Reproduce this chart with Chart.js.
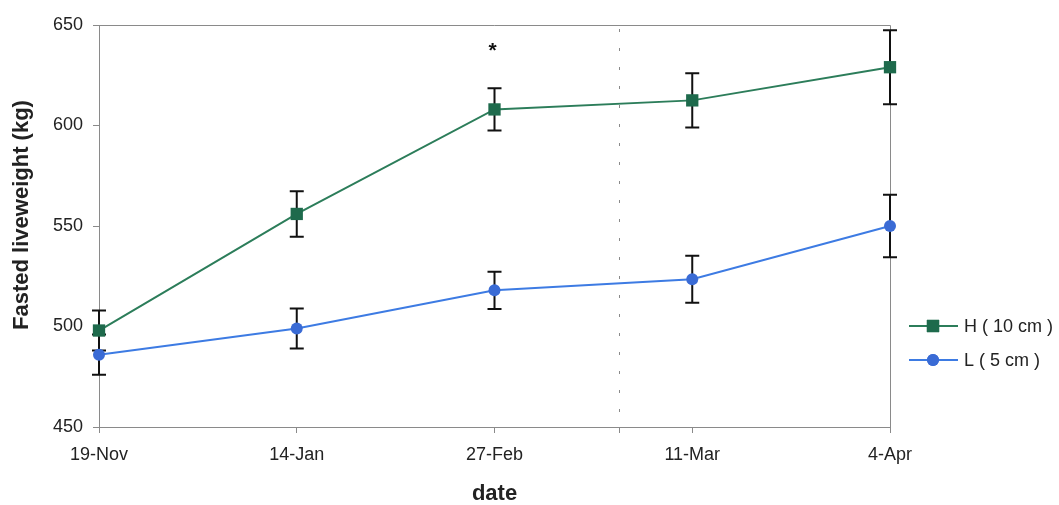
<!DOCTYPE html>
<html>
<head>
<meta charset="utf-8">
<title>Fasted liveweight</title>
<script src="https://cdn.jsdelivr.net/npm/chart.js@4/dist/chart.umd.min.js"></script>
<style>
  html, body { margin: 0; padding: 0; background: #fff; }
  #wrap { position: relative; width: 1059px; height: 505px; }
</style>
</head>
<body>
<div id="wrap"><canvas id="chart_fasted"></canvas></div>
<script>
// Chart data
var dates = ['19-Nov', '14-Jan', '27-Feb', '11-Mar', '4-Apr'];
var highValues = [498, 556, 608, 612.5, 629];
var highErrors = [10, 11.3, 10.5, 13.5, 18.4];
var lowValues = [486, 499, 518, 523.5, 550];
var lowErrors = [10, 10, 9.3, 11.7, 15.5];
var yTicks = [450, 500, 550, 600, 650];
var seriesNames = ['H ( 10 cm )', 'L ( 5 cm )'];
var yTitle = 'Fasted liveweight (kg)';

// Marks: significance star and the dotted divider between 27-Feb and 11-Mar
var starIndex = 2;
var starValue = 639;
var dividerPos = 2.63;

// Define colors
var highLine = '#2c7d5a';
var highMark = '#1e6a4c';
var lowLine = '#3d7be3';
var lowMark = '#3a6bd5';
var axisColor = '#8a8a8a';
var textColor = '#222222';
var fontFamily = '"Liberation Sans", Arial, sans-serif';

function toPoints(values) {
  return values.map(function (v, i) { return { x: i, y: v }; });
}

// Error bars, frame, divider, star, y title and legend
var extrasPlugin = {
  id: 'extras',
  beforeDatasetsDraw: function (chart) {
    var ctx = chart.ctx;
    var xs = chart.scales.x;
    var ys = chart.scales.y;
    var area = chart.chartArea;

    ctx.save();
    // frame top + right
    ctx.strokeStyle = axisColor;
    ctx.lineWidth = 1;
    ctx.beginPath();
    ctx.moveTo(area.left, area.top + 0.5);
    ctx.lineTo(area.right + 0.5, area.top + 0.5);
    ctx.lineTo(area.right + 0.5, area.bottom);
    ctx.stroke();

    // dotted divider
    var dx = Math.round(xs.getPixelForValue(dividerPos)) + 0.5;
    ctx.setLineDash([3, 16]);
    ctx.beginPath();
    ctx.moveTo(dx, area.top + 4);
    ctx.lineTo(dx, area.bottom);
    ctx.stroke();
    ctx.setLineDash([]);

    // error bars
    ctx.strokeStyle = '#111111';
    ctx.lineWidth = 2;
    [[highValues, highErrors], [lowValues, lowErrors]].forEach(function (pair) {
      pair[0].forEach(function (v, i) {
        var x = xs.getPixelForValue(i);
        var yTop = ys.getPixelForValue(v + pair[1][i]);
        var yBot = ys.getPixelForValue(v - pair[1][i]);
        ctx.beginPath();
        ctx.moveTo(x, yTop);
        ctx.lineTo(x, yBot);
        ctx.moveTo(x - 7, yTop);
        ctx.lineTo(x + 7, yTop);
        ctx.moveTo(x - 7, yBot);
        ctx.lineTo(x + 7, yBot);
        ctx.stroke();
      });
    });

    // significance star
    ctx.fillStyle = '#111111';
    ctx.font = 'bold 21px ' + fontFamily;
    ctx.textAlign = 'center';
    ctx.textBaseline = 'middle';
    ctx.fillText('*', xs.getPixelForValue(starIndex) - 2, ys.getPixelForValue(starValue) + 4);
    ctx.restore();
  },
  afterDraw: function (chart) {
    var ctx = chart.ctx;
    var area = chart.chartArea;

    // y axis title (sits a little above the axis middle in the original)
    ctx.save();
    ctx.translate(22, 215);
    ctx.rotate(-Math.PI / 2);
    ctx.fillStyle = textColor;
    ctx.font = 'bold 22px ' + fontFamily;
    ctx.textAlign = 'center';
    ctx.textBaseline = 'middle';
    ctx.fillText(yTitle, 0, 0);
    ctx.restore();

    // legend
    var lx = area.right + 19;
    var rows = [
      { y: 326, line: highLine, mark: highMark, style: 'rect', r: 8.7 },
      { y: 360, line: lowLine, mark: lowMark, style: 'circle', r: 6 }
    ];
    ctx.save();
    rows.forEach(function (row, i) {
      ctx.strokeStyle = row.line;
      ctx.lineWidth = 2;
      ctx.beginPath();
      ctx.moveTo(lx, row.y);
      ctx.lineTo(lx + 49, row.y);
      ctx.stroke();
      ctx.fillStyle = row.mark;
      Chart.helpers.drawPoint(ctx, { pointStyle: row.style, radius: row.r, rotation: 0, borderWidth: 0 }, lx + 24, row.y);
      ctx.fill();
      ctx.fillStyle = textColor;
      ctx.font = '18px ' + fontFamily;
      ctx.textAlign = 'left';
      ctx.textBaseline = 'middle';
      ctx.fillText(seriesNames[i], lx + 55, row.y + 1);
    });
    ctx.restore();
  }
};

var ctx = document.getElementById('chart_fasted');

var config = {
  type: 'line',
  data: {
    datasets: [{
      label: seriesNames[0],
      data: toPoints(highValues),
      borderColor: highLine,
      backgroundColor: highMark,
      borderWidth: 2,
      pointStyle: 'rect',
      pointRadius: 8.7,
      pointBorderWidth: 0,
      tension: 0,
      clip: false
    }, {
      label: seriesNames[1],
      data: toPoints(lowValues),
      borderColor: lowLine,
      backgroundColor: lowMark,
      borderWidth: 2,
      pointStyle: 'circle',
      pointRadius: 6,
      pointBorderWidth: 0,
      tension: 0,
      clip: false
    }]
  },
  options: {
    responsive: true,
    maintainAspectRatio: false,
    animation: false,
    layout: {
      padding: { top: 25, right: 169, bottom: 0, left: 0 }
    },
    plugins: {
      legend: { display: false },
      tooltip: { enabled: false },
      title: { display: false }
    },
    scales: {
      x: {
        type: 'linear',
        min: 0,
        max: dates.length - 1,
        afterBuildTicks: function (scale) {
          var vals = dates.map(function (d, i) { return i; });
          vals.push(dividerPos);
          vals.sort(function (a, b) { return a - b; });
          scale.ticks = vals.map(function (v) { return { value: v }; });
        },
        afterFit: function (scale) { scale.height = 78; },
        ticks: {
          autoSkip: false,
          maxRotation: 0,
          padding: 11,
          color: textColor,
          font: { size: 18, family: fontFamily },
          callback: function (value) {
            return Number.isInteger(value) ? dates[value] : '';
          }
        },
        grid: { drawOnChartArea: false, tickLength: 6, color: axisColor },
        border: { color: axisColor },
        title: {
          display: true,
          text: 'date',
          color: textColor,
          padding: 0,
          font: { size: 22, weight: 'bold', family: fontFamily, lineHeight: 1 }
        }
      },
      y: {
        min: 450,
        max: 650,
        afterBuildTicks: function (scale) {
          scale.ticks = yTicks.map(function (v) { return { value: v }; });
        },
        afterFit: function (scale) { scale.width = 99; },
        ticks: {
          padding: 10,
          color: textColor,
          font: { size: 18, family: fontFamily }
        },
        grid: { drawOnChartArea: false, tickLength: 6, color: axisColor },
        border: { color: axisColor }
      }
    }
  },
  plugins: [extrasPlugin]
};

// Init ChartJS
var myChart = new Chart(ctx, config);
</script>
</body>
</html>
